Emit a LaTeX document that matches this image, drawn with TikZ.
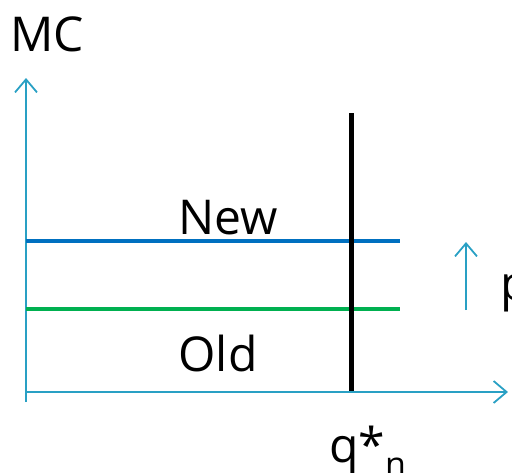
\documentclass[tikz,border=0pt]{standalone}
\usepackage{fontspec}
\setmainfont{Open Sans}
\usetikzlibrary{arrows.meta}
\begin{document}
\begin{tikzpicture}[x=1pt,y=-1pt,
  axis/.style={draw={rgb,255:red,41;green,160;blue,196},line width=1.8pt,-{Straight Barb[length=13pt,width=22pt,line width=1.8pt]}},
  lbl/.style={font=\fontsize{48}{56}\selectfont,inner sep=0pt,anchor=base}]
\definecolor{newblue}{RGB}{0,112,192}
\definecolor{oldgreen}{RGB}{0,176,80}
\useasboundingbox (0,0) rectangle (512,472);
\clip (0,0) rectangle (512,472);
\coordinate (ybot) at (26,402);
\coordinate (ytop) at (26,78);
\coordinate (xl) at (26,392);
\coordinate (xr) at (508,392);
\draw[axis] (ybot) -- (ytop);
\draw[axis] (xl) -- (xr);
\coordinate (nl) at (26,241);
\coordinate (nr) at (400,241);
\coordinate (ol) at (26,309);
\coordinate (or) at (400,309);
\draw[newblue,line width=4pt] (nl) -- (nr);
\draw[oldgreen,line width=4pt] (ol) -- (or);
\coordinate (qt) at (351,113);
\coordinate (qb) at (351,391);
\draw[black,line width=5pt] (qt) -- (qb);
\coordinate (pb) at (466,310);
\coordinate (pt) at (466,242);
\draw[axis] (pb) -- (pt);
\node[lbl] (mc) at (47,51) {MC};
\node[lbl] (new) at (228,234) {New};
\node[lbl] (old) at (218,371) {Old};
\node[lbl,anchor=base west] (p) at (500,300) {p};
\node[lbl,anchor=base west] (q) at (329,462) {q*\raisebox{-14pt}{\fontsize{34}{40}\selectfont n}};
\end{tikzpicture}
\end{document}
